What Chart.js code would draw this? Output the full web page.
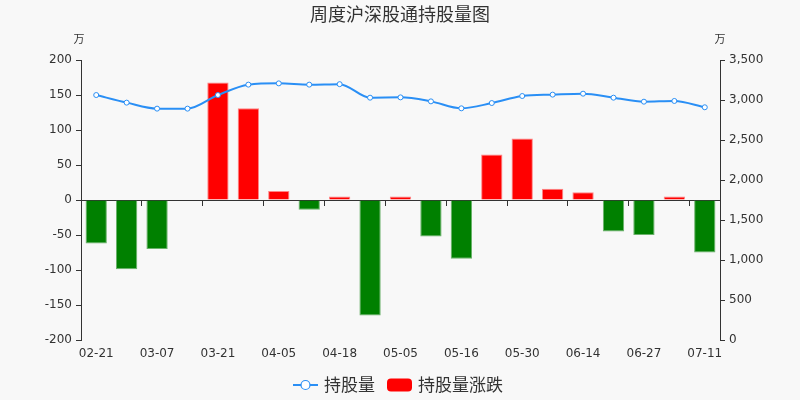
<!DOCTYPE html>
<html>
<head>
<meta charset="utf-8">
<title>周度沪深股通持股量图</title>
<script src="https://cdn.jsdelivr.net/npm/chart.js@4.4.1/dist/chart.umd.min.js"></script>
<style>
  html, body { margin: 0; padding: 0; background: #f8f8f8; }
  #box { width: 800px; height: 400px; }
</style>
</head>
<body>
<div id="box"><canvas id="chart" width="800" height="400"></canvas></div>
<script>
// Weekly dates
const weeks = ['02-21','02-28','03-07','03-14','03-21','03-28','04-05','04-11','04-18','04-25',
               '05-05','05-09','05-16','05-23','05-30','06-06','06-14','06-20','06-27','07-04','07-11'];
// Holdings (万), right axis
const holdings = [3062, 2967, 2892, 2892, 3062, 3192, 3208, 3192, 3198, 3029,
                  3033, 2983, 2896, 2962, 3050, 3067, 3079, 3029, 2979, 2988, 2909];
// Weekly change in holdings (万), left axis
const changes = [-62, -99, -70, -0.8, 168, 131, 13, -14, 5, -165,
                 5, -52, -84, 65, 88, 16, 11, -45, -50, 5, -75];
// Axis ranges and steps
const leftRange = [-200, 200];
const leftStep = 50;
const rightRange = [0, 3500];
const rightStep = 500;

const TEXT = '#333333';
const LINE = '#2a8ff5';
const UP = '#ff0000';
const DOWN = '#008000';
const CJK = '"Noto Sans CJK SC", "DejaVu Sans", sans-serif';

Chart.defaults.font.family = '"DejaVu Sans", "Noto Sans CJK SC", sans-serif';
Chart.defaults.font.size = 12;
Chart.defaults.color = TEXT;

// Page background, title, unit captions and legend
const decor = {
  id: 'decor',
  beforeDraw(chart) {
    const c = chart.ctx;
    c.save();
    c.fillStyle = '#f8f8f8';
    c.fillRect(0, 0, chart.width, chart.height);
    c.restore();
  },
  afterDraw(chart) {
    const c = chart.ctx;
    const area = chart.chartArea;
    c.save();
    c.fillStyle = TEXT;
    c.textBaseline = 'middle';
    c.textAlign = 'center';
    c.font = '18px ' + CJK;
    c.fillText('周度沪深股通持股量图', 400, 14);

    c.font = '11px ' + CJK;
    c.fillText('万', area.left - 2, 39);
    c.fillText('万', area.right, 39);

    // legend
    const ly = 385;
    c.strokeStyle = LINE;
    c.lineWidth = 2;
    c.beginPath();
    c.moveTo(293, ly);
    c.lineTo(318, ly);
    c.stroke();
    c.beginPath();
    c.arc(305.5, ly, 4.5, 0, Math.PI * 2);
    c.fillStyle = '#ffffff';
    c.fill();
    c.lineWidth = 1.2;
    c.stroke();

    c.font = '17px ' + CJK;
    c.textAlign = 'left';
    c.fillStyle = TEXT;
    c.fillText('持股量', 324, ly);

    c.fillStyle = UP;
    c.beginPath();
    c.roundRect(387, ly - 6.5, 25, 13, 4);
    c.fill();
    c.fillStyle = TEXT;
    c.fillText('持股量涨跌', 418, ly);
    c.restore();
  }
};

new Chart(document.getElementById('chart'), {
  type: 'bar',
  data: {
    labels: weeks,
    datasets: [
      {
        type: 'line',
        label: '持股量',
        data: holdings,
        yAxisID: 'y1',
        borderColor: LINE,
        borderWidth: 2,
        cubicInterpolationMode: 'monotone',
        pointRadius: 2.5,
        pointBorderWidth: 1,
        pointBackgroundColor: '#ffffff',
        pointBorderColor: LINE,
        order: 0
      },
      {
        type: 'bar',
        label: '持股量涨跌',
        data: changes,
        yAxisID: 'y',
        backgroundColor: changes.map(v => v >= 0 ? UP : DOWN),
        borderColor: changes.map(v => v >= 0 ? 'rgba(255,120,120,0.9)' : 'rgba(90,170,90,0.9)'),
        borderWidth: 1,
        barPercentage: 0.7,
        categoryPercentage: 1,
        order: 1
      }
    ]
  },
  options: {
    responsive: false,
    animation: false,
    devicePixelRatio: 1,
    layout: { padding: { top: 60, bottom: 30, left: 0, right: 0 } },
    plugins: {
      legend: { display: false },
      title: { display: false },
      tooltip: { enabled: false }
    },
    scales: {
      x: {
        type: 'category',
        position: 'bottom',
        offset: true,
        border: { display: false },
        grid: { display: false, drawTicks: false },
        ticks: {
          autoSkip: false,
          maxRotation: 0,
          minRotation: 0,
          padding: 7,
          color: TEXT,
          callback: (v, i) => (i % 2 === 0 ? weeks[i] : '')
        },
        afterFit: s => { s.height = 30; }
      },
      x2: {
        type: 'category',
        axis: 'x',
        position: { y: 0 },
        offset: true,
        border: { display: true, color: TEXT, width: 1 },
        grid: {
          display: true,
          offset: true,
          drawOnChartArea: false,
          drawTicks: true,
          tickLength: 5,
          color: ctx => (ctx.index % 2 === 0 ? TEXT : 'rgba(0,0,0,0)'),
          tickColor: ctx => (ctx.index % 2 === 0 ? TEXT : 'rgba(0,0,0,0)')
        },
        ticks: { display: false, autoSkip: false }
      },
      y: {
        position: 'left',
        min: leftRange[0],
        max: leftRange[1],
        border: { display: true, color: TEXT },
        grid: { drawOnChartArea: false, drawTicks: true, tickLength: 5, color: TEXT, tickColor: TEXT },
        ticks: { stepSize: leftStep, padding: 4, color: TEXT },
        afterFit: s => { s.width = 81; }
      },
      y1: {
        position: 'right',
        min: rightRange[0],
        max: rightRange[1],
        border: { display: true, color: TEXT },
        grid: { drawOnChartArea: false, drawTicks: true, tickLength: 5, color: TEXT, tickColor: TEXT },
        ticks: { stepSize: rightStep, padding: 4, color: TEXT },
        afterFit: s => { s.width = 80; }
      }
    }
  },
  plugins: [decor]
});
</script>
</body>
</html>
